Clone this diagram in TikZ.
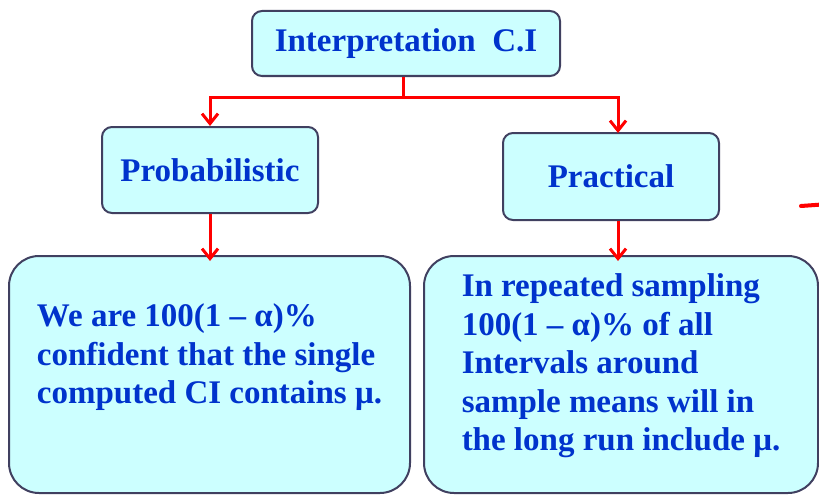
\documentclass[tikz,border=0pt]{standalone}
\usepackage{fontspec}
\setmainfont{Liberation Serif}
\usepackage{xcolor}
\usetikzlibrary{arrows.meta, positioning}

\definecolor{boxfill}{RGB}{204,255,255}
\definecolor{boxline}{RGB}{64,64,96}
\definecolor{txtblue}{RGB}{0,51,204}

\begin{document}
\begin{tikzpicture}[x=1pt, y=-1pt,
    hblock/.style={rectangle, rounded corners=10pt, draw=boxline, line width=2pt,
                   fill=boxfill, text=txtblue, align=center,
                   font=\fontsize{33}{38.5}\selectfont\bfseries},
    bigblock/.style={rectangle, rounded corners=30pt, draw=boxline, line width=2pt,
                     fill=boxfill, text=txtblue, align=left, minimum height=237pt,
                     font=\fontsize{33}{38.5}\selectfont\bfseries},
    link/.style={red, line width=3pt},
    arrow/.style={red, line width=3pt, -{Straight Barb[length=10pt, width=16pt]}},
]
\useasboundingbox (0,0) rectangle (819,495);
% heading
\node[hblock, minimum width=308pt, minimum height=65pt] (interp) at (406,43.5) {Interpretation\ \ C.I};
% two readings
\node[hblock, minimum width=216pt, minimum height=86pt] (prob) at (210,170) {Probabilistic};
\node[hblock, minimum width=216pt, minimum height=87pt] (prac) at (611,176.5) {Practical};
% statements
\node[bigblock, minimum width=401pt, text depth=41pt] (probtxt) at (209.5,374.5)
  {We are 100(1 – α)\%\\confident that the single\\computed CI contains μ.};
\node[bigblock, minimum width=394pt, text depth=24pt] (practxt) at (621,374.5)
  {In repeated sampling\\100(1 – α)\% of all\\Intervals around\\sample means will in\\the long run include μ.};

% split
\coordinate (split) at (403,97);
\coordinate (pracin) at (618,133);
\draw[link] (interp.south -| split) -- (split);
\draw[arrow] (split) -| (prob.north);
\draw[arrow] (split) -| (pracin);
% down to statements
\draw[arrow] (prob.south) -- ([yshift=-6pt]probtxt.north -| prob.south);
\draw[arrow] (prac.south -| pracin) -- ([yshift=-6pt]practxt.north -| pracin);
% pen mark
\draw[red, line width=4pt, line cap=round] (801,206) -- (822,204.5);
\end{tikzpicture}
\end{document}
